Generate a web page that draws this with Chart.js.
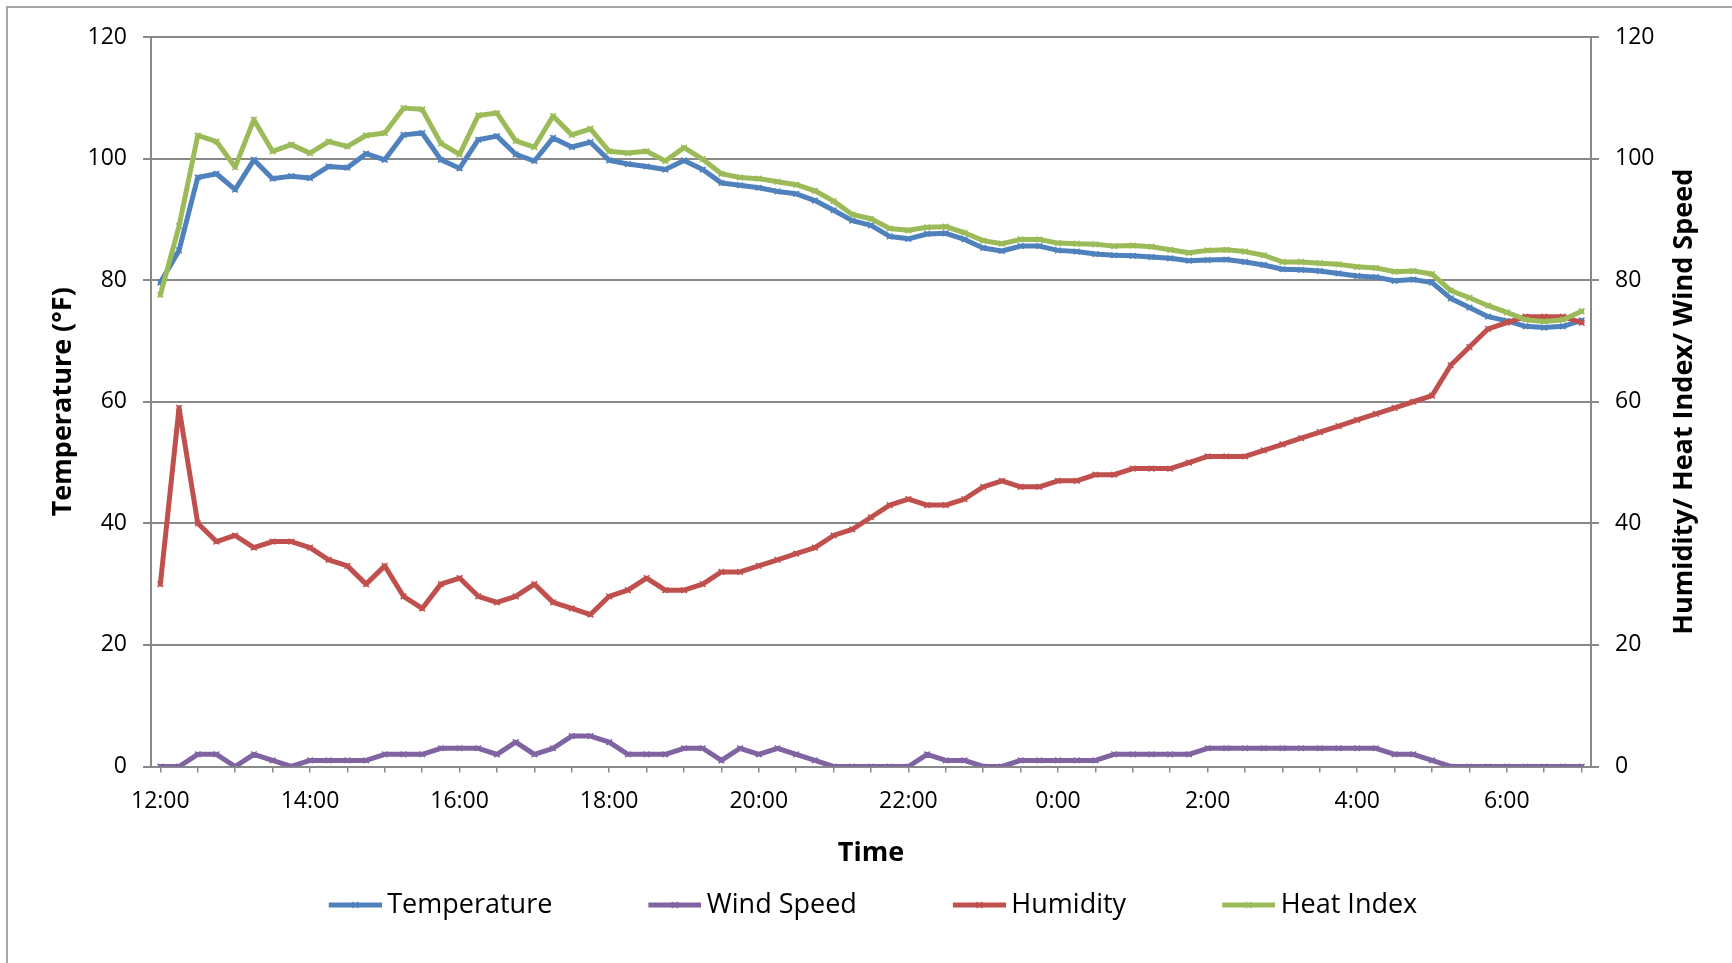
<!DOCTYPE html>
<html>
<head>
<meta charset="utf-8">
<title>Temperature, Humidity, Heat Index and Wind Speed</title>
<script src="https://cdn.jsdelivr.net/npm/chart.js@4.4.1/dist/chart.umd.min.js"></script>
<style>
  body { margin: 0; background: #fff; overflow: hidden; }
  #wrap { position: relative; width: 1732px; height: 963px; }
  #frame { position: absolute; left: 6px; top: 6px; width: 2000px; height: 2000px; border: 2px solid #a6a6a6; }
  canvas { position: absolute; left: 0; top: 0; }
</style>
</head>
<body>
<div id="wrap">
  <div id="frame"></div>
  <canvas id="weatherChart" width="1732" height="963"></canvas>
</div>
<script>
// Time of each reading (15 minute steps)
const times = [
  "12:00","12:15","12:30","12:45","13:00","13:15","13:30","13:45",
  "14:00","14:15","14:30","14:45","15:00","15:15","15:30","15:45",
  "16:00","16:15","16:30","16:45","17:00","17:15","17:30","17:45",
  "18:00","18:15","18:30","18:45","19:00","19:15","19:30","19:45",
  "20:00","20:15","20:30","20:45","21:00","21:15","21:30","21:45",
  "22:00","22:15","22:30","22:45","23:00","23:15","23:30","23:45",
  "0:00","0:15","0:30","0:45","1:00","1:15","1:30","1:45",
  "2:00","2:15","2:30","2:45","3:00","3:15","3:30","3:45",
  "4:00","4:15","4:30","4:45","5:00","5:15","5:30","5:45",
  "6:00","6:15","6:30","6:45","7:00"
];

const temperature = [
  79.6, 84.9, 96.9, 97.5, 94.9, 99.8, 96.7, 97.1, 96.8, 98.7, 98.5, 100.8, 99.8, 103.9, 104.2, 99.8,
  98.4, 103.1, 103.7, 100.7, 99.6, 103.4, 101.9, 102.7, 99.7, 99.1, 98.7, 98.2, 99.7, 98.2, 96.0, 95.6,
  95.2, 94.6, 94.2, 93.1, 91.5, 89.8, 89.0, 87.2, 86.8, 87.6, 87.7, 86.7, 85.3, 84.8, 85.6, 85.6,
  84.9, 84.7, 84.3, 84.1, 84.0, 83.8, 83.6, 83.2, 83.3, 83.4, 83.0, 82.5, 81.8, 81.7, 81.5, 81.1,
  80.7, 80.5, 79.9, 80.1, 79.6, 77.0, 75.5, 74.0, 73.3, 72.4, 72.2, 72.4, 73.4
];

const windSpeed = [
  0, 0, 2, 2, 0, 2, 1, 0, 1, 1, 1, 1, 2, 2, 2, 3,
  3, 3, 2, 4, 2, 3, 5, 5, 4, 2, 2, 2, 3, 3, 1, 3,
  2, 3, 2, 1, 0, 0, 0, 0, 0, 2, 1, 1, 0, 0, 1, 1,
  1, 1, 1, 2, 2, 2, 2, 2, 3, 3, 3, 3, 3, 3, 3, 3,
  3, 3, 2, 2, 1, 0, 0, 0, 0, 0, 0, 0, 0
];

const humidity = [
  30, 59, 40, 37, 38, 36, 37, 37, 36, 34, 33, 30, 33, 28, 26, 30,
  31, 28, 27, 28, 30, 27, 26, 25, 28, 29, 31, 29, 29, 30, 32, 32,
  33, 34, 35, 36, 38, 39, 41, 43, 44, 43, 43, 44, 46, 47, 46, 46,
  47, 47, 48, 48, 49, 49, 49, 50, 51, 51, 51, 52, 53, 54, 55, 56,
  57, 58, 59, 60, 61, 66, 69, 72, 73, 74, 74, 74, 73
];

const heatIndex = [
  77.6, 88.9, 103.8, 102.8, 98.6, 106.4, 101.2, 102.3, 100.9, 102.8, 102.0, 103.8, 104.2, 108.3, 108.1, 102.5,
  100.7, 107.1, 107.5, 102.9, 101.9, 107.0, 103.9, 104.9, 101.2, 100.9, 101.2, 99.6, 101.8, 99.9, 97.5, 96.9,
  96.7, 96.2, 95.7, 94.7, 93.0, 90.8, 90.1, 88.5, 88.2, 88.7, 88.8, 87.8, 86.5, 86.0, 86.7, 86.7,
  86.1, 86.0, 85.9, 85.6, 85.7, 85.5, 85.0, 84.5, 84.9, 85.0, 84.7, 84.1, 83.0, 83.0, 82.8, 82.6,
  82.2, 82.0, 81.4, 81.5, 81.0, 78.3, 77.1, 75.8, 74.7, 73.5, 73.2, 73.5, 74.9
];

const seriesNames = ["Temperature", "Wind Speed", "Humidity", "Heat Index"];
const seriesColors = ["#4f81bd", "#8064a2", "#c0504d", "#9bbb59"];
const axisGray = "#898989";

Chart.defaults.font.family = "'Open Sans', sans-serif";
Chart.defaults.color = "#000";

// legend sample: short thick line with an x marker; the icon is a bit wider than
// the legend box so the sample sits close to its text
const legendBox = 109;
function legendIcon(color) {
  const c = document.createElement('canvas');
  c.width = legendBox + 16;
  c.height = 14;
  const g = c.getContext('2d');
  const x0 = c.width - 53;
  g.strokeStyle = color;
  g.lineWidth = 5;
  g.beginPath();
  g.moveTo(x0, 7);
  g.lineTo(c.width, 7);
  g.stroke();
  g.lineWidth = 1.5;
  const cx = x0 + 26.5;
  g.beginPath();
  g.moveTo(cx - 3, 4); g.lineTo(cx + 3, 10);
  g.moveTo(cx + 3, 4); g.lineTo(cx - 3, 10);
  g.stroke();
  return c;
}
const legendIcons = seriesColors.map(legendIcon);

// right axis title reads bottom to top, like the left one
const rightTitle = {
  id: 'rightTitle',
  afterDraw(chart) {
    const s = chart.scales.y1;
    const ctx = chart.ctx;
    ctx.save();
    ctx.translate(s.left + 93, (s.top + s.bottom) / 2);
    ctx.rotate(-Math.PI / 2);
    ctx.font = "bold 27px 'Open Sans', sans-serif";
    ctx.fillStyle = '#000';
    ctx.textAlign = 'center';
    ctx.textBaseline = 'middle';
    ctx.fillText('Humidity/ Heat Index/ Wind Speed', 0, 0);
    ctx.restore();
  }
};

function lineSet(i, data, axis, order) {
  return {
    label: seriesNames[i],
    data: data,
    yAxisID: axis,
    order: order,
    borderColor: seriesColors[i],
    backgroundColor: seriesColors[i],
    borderWidth: 5,
    borderJoinStyle: 'round',
    borderCapStyle: 'round',
    tension: 0,
    pointStyle: 'crossRot',
    pointRadius: 4,
    pointBorderWidth: 1.5,
    pointBorderColor: seriesColors[i],
    fill: false
  };
}

const ctx = document.getElementById('weatherChart').getContext('2d');
new Chart(ctx, {
  type: 'line',
  data: {
    labels: times,
    datasets: [
      lineSet(0, temperature, 'y', 4),
      lineSet(1, windSpeed, 'y1', 3),
      lineSet(2, humidity, 'y1', 2),
      lineSet(3, heatIndex, 'y1', 1)
    ]
  },
  options: {
    responsive: false,
    animation: false,
    events: [],
    layout: { padding: { top: 37, left: 0, right: 50, bottom: 34.5 } },
    plugins: {
      tooltip: { enabled: false },
      legend: {
        position: 'bottom',
        labels: {
          usePointStyle: true,
          pointStyleWidth: legendBox,
          padding: 32,
          font: { size: 27 },
          color: '#000',
          generateLabels(chart) {
            const items = Chart.defaults.plugins.legend.labels.generateLabels(chart);
            items.forEach(it => { it.pointStyle = legendIcons[it.datasetIndex]; });
            return items.sort((a, b) => a.datasetIndex - b.datasetIndex);
          }
        }
      }
    },
    scales: {
      x: {
        offset: true,
        afterFit(scale) { scale.height = 93; },
        grid: {
          drawOnChartArea: false,
          tickLength: 6,
          lineWidth: 1.5,
          color: c => (c.index % 2 === 0 ? axisGray : 'rgba(0,0,0,0)')
        },
        border: { color: axisGray, width: 2 },
        ticks: {
          autoSkip: false,
          maxRotation: 0,
          padding: 15,
          font: { size: 23 },
          callback: (v, i) => (i % 8 === 0 ? times[i] : '')
        },
        title: {
          display: true,
          text: 'Time',
          font: { size: 27, weight: 'bold' },
          padding: { top: 0, bottom: -10.5 }
        }
      },
      y: {
        position: 'left',
        min: 0,
        max: 120,
        afterFit(scale) { scale.width = 151; },
        grid: { color: axisGray, lineWidth: 2, tickLength: 8 },
        border: { color: axisGray, width: 2 },
        ticks: { stepSize: 20, padding: 16, font: { size: 23 } },
        title: {
          display: true,
          text: 'Temperature (°F)',
          font: { size: 27, weight: 'bold' },
          padding: { top: 47, bottom: 0 }
        }
      },
      y1: {
        position: 'right',
        min: 0,
        max: 120,
        afterFit(scale) { scale.width = 91; },
        grid: { drawOnChartArea: false, color: axisGray, lineWidth: 2, tickLength: 8 },
        border: { color: axisGray, width: 2 },
        ticks: { stepSize: 20, padding: 16, font: { size: 23 } }
      }
    }
  },
  plugins: [rightTitle]
});
</script>
</body>
</html>
